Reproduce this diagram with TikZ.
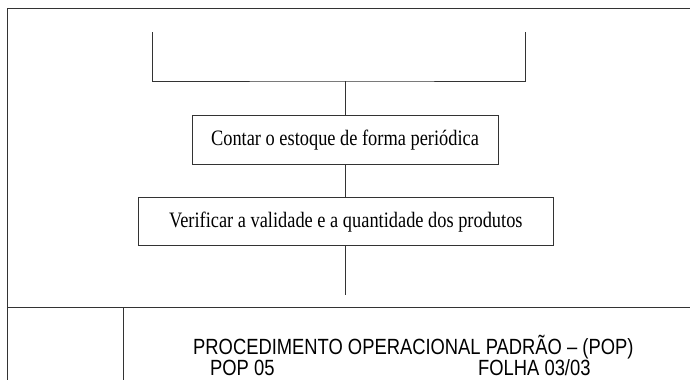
\documentclass[tikz,border=0pt]{standalone}
\usepackage{fontspec}
\setmainfont{Liberation Serif}
\newfontfamily\popsans{Liberation Sans}
\usepackage{graphicx}
\usetikzlibrary{positioning}
\newcommand{\narrowtxt}[1]{\scalebox{0.835}[1]{#1}}
\tikzset{
  frameline/.style={line width=1pt,draw=black!80},
  popbox/.style={draw=black!80,line width=1pt,inner sep=0pt,font=\fontsize{22}{26}\selectfont},
  foottxt/.style={inner sep=0pt,anchor=base west,font=\popsans\fontsize{22}{26}\selectfont}
}
\begin{document}
\begin{tikzpicture}[x=1pt,y=1pt,yscale=-1,xscale=1]
  \useasboundingbox (0,0) rectangle (690,380);
  % frame of the sheet
  \coordinate (tl) at (7,8);
  \coordinate (tr) at (690,8);
  \coordinate (bl) at (7,380);
  \coordinate (fl) at (7,307);
  \coordinate (fr) at (690,307);
  \coordinate (dt) at (123,307);
  \coordinate (db) at (123,380);
  \draw[frameline] (tr) -- (tl) -- (bl);
  \draw[frameline] (fl) -- (fr);
  \draw[frameline] (dt) -- (db);

  % open bracket at the top
  \coordinate (brl) at (152,32);
  \coordinate (brr) at (525,32);
  \coordinate (brm) at (345,81);
  \draw[frameline] (brl) |- (brm) -| (brr);

  % the two steps
  \node[popbox,minimum width=306,minimum height=49] (contar) at (345,140.2)
    {\narrowtxt{Contar o estoque de forma periódica}};
  \node[popbox,minimum width=415,minimum height=48] (verificar) at (345.8,221.7)
    {\narrowtxt{Verificar a validade e a quantidade dos produtos}};
  \coordinate (fim) at (345,295);

  \draw[frameline] (brm) -- (contar.north -| brm);
  \draw[frameline] (contar.south -| brm) -- (verificar.north -| brm);
  \draw[frameline] (verificar.south -| brm) -- (fim);

  % footer texts
  \node[foottxt] (titulo) at (193,354) {\narrowtxt{PROCEDIMENTO OPERACIONAL PADRÃO – (POP)}};
  \node[foottxt] (pop) at (210,375.5) {\narrowtxt{POP 05}};
  \node[foottxt] (folha) at (478,375.5) {\narrowtxt{FOLHA 03/03}};
\end{tikzpicture}
\end{document}
